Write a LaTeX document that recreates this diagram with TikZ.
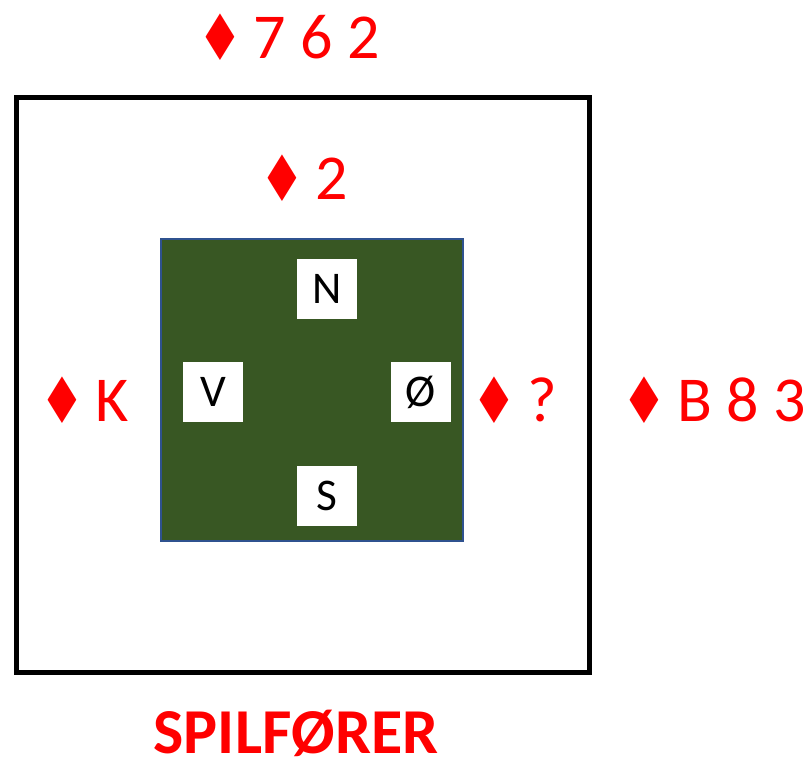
\documentclass[tikz,border=0pt]{standalone}
\usepackage{fontspec}
\setmainfont{Carlito}
\newfontfamily\symfont{DejaVu Sans}
\usepackage{xcolor}
\definecolor{tablegreen}{HTML}{385723}
\definecolor{tableedge}{HTML}{2F528F}
\newcommand\ruder{\raisebox{-1pt}{\scalebox{0.8}[1.0]{\symfont ♦}}\hspace{0.16em}}

\begin{document}
\begin{tikzpicture}[x=0.75pt,y=-0.75pt,
  seat/.style={fill=white,minimum size=45pt,inner sep=0pt,font=\fontsize{34}{34}\selectfont},
  hand/.style={anchor=west,inner sep=0pt,text=red,font=\fontsize{48}{48}\selectfont}]
\useasboundingbox (0,0) rectangle (810,766);
\draw[line width=3.75pt] (16,98) rectangle (589,672);
\draw[fill=tablegreen,draw=tableedge,line width=1.2pt] (161,239) rectangle (463,541);
\node[seat] (nord) at (327,289) {N};
\node[seat] (vest) at (213,392) {V};
\node[seat] (oest) at (421,392) {Ø};
\node[seat] (syd) at (327,496) {S};
\node[hand] (nordhand) at (197,37) {\ruder 7 6 2};
\node[hand] (dummyhand) at (259,178) {\ruder 2};
\node[hand] (vesthand) at (39,400) {\ruder K};
\node[hand] (oesthand) at (471,400) {\ruder ?};
\node[hand] (oestkort) at (621,400) {\ruder B 8 3};
\node[inner sep=0pt,text=red,font=\fontsize{48}{48}\bfseries\selectfont] (spilforer) at (296,733) {SPILFØRER};
\end{tikzpicture}
\end{document}
